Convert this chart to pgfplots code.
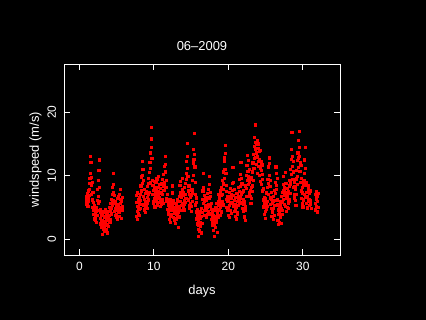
\documentclass[border=0pt]{standalone}
\usepackage{fontspec}
\setmainfont{Liberation Sans}
\usepackage{pgfplots}
\usepackage{pgfplotstable}
\pgfplotsset{compat=1.18}
\pgfplotstableread{
x y
0.92 6.3
0.96 5.8
1.00 6.8
1.04 5.5
1.08 7.2
1.12 6.0
1.16 5.2
1.20 7.6
1.24 6.4
1.28 5.9
1.32 8.8
1.36 6.9
1.40 7.8
1.44 9.6
1.48 13.0
1.52 10.4
1.56 12.1
1.60 8.5
1.64 9.7
1.68 7.1
1.72 8.9
1.76 6.2
1.80 5.0
1.84 7.4
1.88 4.6
1.92 5.8
1.96 3.9
2.00 4.8
2.04 3.2
2.08 5.3
2.12 2.9
2.16 4.1
2.20 3.5
2.24 5.0
2.28 2.7
2.32 4.4
2.36 3.8
2.40 6.1
2.44 4.5
2.48 7.9
2.52 5.6
2.56 9.3
2.60 6.8
2.64 10.8
2.68 12.5
2.72 8.1
2.76 5.9
2.80 4.2
2.84 3.3
2.88 4.6
2.92 2.4
2.96 3.7
3.00 1.9
3.04 3.0
3.08 0.8
3.12 2.6
3.16 3.9
3.20 1.5
3.24 2.8
3.28 4.3
3.32 2.1
3.36 3.4
3.40 1.2
3.44 2.5
3.48 3.6
3.52 4.6
3.56 2.2
3.60 3.1
3.64 1.6
3.68 2.9
3.72 4.0
3.76 1.0
3.80 2.3
3.84 3.5
3.88 2.0
3.92 3.2
3.96 4.4
4.00 2.6
4.04 3.8
4.08 5.0
4.12 3.1
4.16 4.5
4.20 2.7
4.24 5.6
4.28 4.0
4.32 6.3
4.36 4.8
4.40 7.0
4.44 5.4
4.48 8.2
4.52 6.1
4.56 10.4
4.60 8.6
4.64 7.4
4.68 5.8
4.72 6.9
4.76 4.4
4.80 5.6
4.84 3.7
4.88 6.0
4.92 4.9
4.96 3.4
5.00 5.2
5.04 3.9
5.08 6.4
5.12 4.6
5.16 3.1
5.20 5.5
5.24 4.2
5.28 6.8
5.32 3.6
5.36 5.0
5.40 4.3
5.44 7.1
5.48 5.7
5.52 7.8
5.56 4.8
5.60 6.3
5.64 3.3
5.68 5.9
5.72 4.5
5.76 6.6
5.80 5.1
7.64 5.8
7.68 3.6
7.72 6.9
7.76 4.4
7.80 7.3
7.84 3.1
7.88 5.2
7.92 4.0
7.96 6.2
8.00 4.7
8.04 6.5
8.08 3.8
8.12 5.6
8.16 7.0
8.20 4.9
8.24 6.1
8.28 8.4
8.32 5.5
8.36 9.8
8.40 7.6
8.44 12.2
8.48 10.1
8.52 8.8
8.56 11.0
8.60 6.7
8.64 9.2
8.68 5.4
8.72 7.8
8.76 4.6
8.80 6.3
8.84 5.1
8.88 7.2
8.92 4.2
8.96 6.0
9.00 5.3
9.04 7.5
9.08 4.8
9.12 6.6
9.16 8.3
9.20 5.7
9.24 7.0
9.28 9.6
9.32 6.2
9.36 8.8
9.40 10.5
9.44 7.4
9.48 12.1
9.52 9.0
9.56 13.6
9.60 11.2
9.64 15.8
9.68 17.6
9.72 14.4
9.76 12.7
9.80 9.3
9.84 7.1
9.88 8.5
9.92 6.0
9.96 7.7
10.00 5.6
10.04 8.2
10.08 6.4
10.12 9.1
10.16 5.1
10.20 7.3
10.24 6.7
10.28 8.9
10.32 5.9
10.36 7.8
10.40 6.3
10.44 9.5
10.48 7.0
10.52 5.4
10.56 8.1
10.60 6.8
10.64 9.9
10.68 7.5
10.72 5.8
10.76 8.6
10.80 6.5
10.84 7.2
10.88 5.2
10.92 8.0
10.96 6.1
11.00 7.4
11.04 5.5
11.08 8.7
11.12 6.2
11.16 9.4
11.20 7.0
11.24 5.6
11.28 8.3
11.32 10.2
11.36 7.7
11.40 9.0
11.44 11.5
11.48 8.4
11.52 13.1
11.56 10.6
11.60 11.8
11.64 8.1
11.68 6.4
11.72 9.2
11.76 5.9
11.80 7.1
11.84 4.7
11.88 6.0
11.92 3.9
11.96 5.3
12.00 4.2
12.04 5.8
12.08 3.1
12.12 4.9
12.16 6.3
12.20 3.6
12.24 5.2
12.28 2.7
12.32 4.5
12.36 6.0
12.40 3.9
12.44 5.5
12.48 7.3
12.52 4.6
12.56 8.4
12.60 6.1
12.64 5.0
12.68 3.4
12.72 4.8
12.76 2.9
12.80 4.1
12.84 5.6
12.88 3.3
12.92 4.4
12.96 2.5
13.00 4.0
13.04 5.4
13.08 3.2
13.12 4.7
13.16 6.2
13.20 3.7
13.24 5.1
13.28 1.8
13.32 4.3
13.36 5.9
13.40 3.5
13.44 6.8
13.48 4.9
13.52 8.5
13.56 6.0
13.60 9.1
13.64 7.3
13.68 5.3
13.72 6.6
13.76 4.5
13.80 7.9
13.84 5.7
13.88 9.6
13.92 6.9
13.96 5.0
14.00 7.4
14.04 5.5
14.08 8.2
14.12 6.1
14.16 4.6
14.20 7.0
14.24 5.8
14.28 8.8
14.32 6.4
14.36 10.3
14.40 12.3
14.44 9.4
14.48 15.1
14.52 11.1
14.56 13.0
14.60 9.9
14.64 7.6
14.68 6.2
14.72 8.4
14.76 5.3
14.80 7.1
14.84 4.8
14.88 6.6
14.92 5.6
14.96 7.7
15.00 5.2
15.04 6.9
15.08 4.4
15.12 7.8
15.16 6.0
15.20 9.2
15.24 7.3
15.28 12.0
15.32 10.0
15.36 14.1
15.40 12.6
15.44 16.7
15.48 13.3
15.52 11.4
15.56 9.0
15.60 7.1
15.64 5.4
15.68 6.5
15.72 4.3
15.76 5.8
15.80 3.2
15.84 4.6
15.88 2.4
15.92 3.8
15.96 1.6
16.00 3.0
16.04 0.5
16.08 2.2
16.12 4.0
16.16 1.3
16.20 3.3
16.24 2.0
16.28 4.4
16.32 2.7
16.36 1.0
16.40 3.6
16.44 4.9
16.48 2.5
16.52 6.3
16.56 4.2
16.60 7.6
16.64 10.4
16.68 8.1
16.72 5.7
16.76 6.9
16.80 4.5
16.84 5.9
16.88 3.7
16.92 6.4
16.96 4.8
17.00 5.3
17.04 3.4
17.08 6.1
17.12 4.6
17.16 7.2
17.20 5.0
17.24 3.9
17.28 6.6
17.32 4.3
17.36 7.9
17.40 5.5
17.44 8.6
17.48 6.4
17.52 9.9
17.56 7.4
17.60 5.2
17.64 6.8
17.68 4.0
17.72 5.6
17.76 3.1
17.80 4.7
17.84 2.6
17.88 4.2
17.92 3.5
17.96 2.2
18.00 3.8
18.04 1.4
18.08 2.9
18.12 4.5
18.16 0.4
18.20 2.4
18.24 3.6
18.28 5.0
18.32 1.8
18.36 3.2
18.40 4.8
18.44 2.6
18.48 5.7
18.52 3.9
18.56 1.1
18.60 4.4
18.64 6.0
18.68 3.4
18.72 5.3
18.76 7.0
18.80 4.6
18.84 6.5
18.88 3.7
18.92 5.5
18.96 7.6
19.00 5.1
19.04 6.9
19.08 4.3
19.12 8.2
19.16 6.0
19.20 9.3
19.24 7.1
19.28 5.4
19.32 8.7
19.36 10.6
19.40 7.8
19.44 12.2
19.48 9.6
19.52 12.8
19.56 11.0
19.60 13.5
19.64 14.8
19.68 10.3
19.72 8.5
19.76 6.3
19.80 7.5
19.84 5.0
19.88 6.7
19.92 4.6
19.96 5.9
20.00 3.8
20.04 6.2
20.08 4.9
20.12 7.4
20.16 5.3
20.20 3.4
20.24 6.8
20.28 4.5
20.32 8.0
20.36 5.8
20.40 7.1
20.44 4.1
20.48 6.4
20.52 8.8
20.56 5.6
20.60 7.7
20.64 11.3
20.68 9.0
20.72 6.9
20.76 5.2
20.80 7.9
20.84 4.4
20.88 6.1
20.92 3.6
20.96 5.4
21.00 4.7
21.04 6.6
21.08 3.2
21.12 5.0
21.16 7.2
21.20 4.2
21.24 5.9
21.28 3.9
21.32 6.8
21.36 5.3
21.40 8.1
21.44 6.2
21.48 9.4
21.52 7.5
21.56 5.6
21.60 10.2
21.64 8.3
21.68 6.5
21.72 12.1
21.76 9.6
21.80 7.0
21.84 8.7
21.88 5.8
21.92 7.4
21.96 4.9
22.00 6.3
22.04 4.4
22.08 7.6
22.12 5.5
22.16 3.5
22.20 6.0
22.24 4.6
22.28 3.0
22.32 5.2
22.36 8.4
22.40 6.7
22.44 10.1
22.48 8.0
22.52 11.6
22.56 9.3
22.60 13.2
22.64 10.7
22.68 8.6
22.72 12.4
22.76 9.8
22.80 7.3
22.84 11.0
22.88 8.9
22.92 6.8
22.96 9.5
23.00 7.7
23.04 5.6
23.08 8.2
23.12 6.4
23.16 9.7
23.20 7.5
23.24 10.6
23.28 8.4
23.32 12.0
23.36 9.2
23.40 13.4
23.44 11.1
23.48 14.6
23.52 12.7
23.56 16.0
23.60 18.0
23.64 14.2
23.68 15.3
23.72 12.9
23.76 14.9
23.80 13.6
23.84 11.8
23.88 15.6
23.92 13.1
23.96 10.4
24.00 14.3
24.04 12.3
24.08 15.0
24.12 11.5
24.16 13.8
24.20 10.0
24.24 12.6
24.28 14.0
24.32 11.2
24.36 9.1
24.40 12.2
24.44 10.8
24.48 8.6
24.52 11.7
24.56 9.4
24.60 7.6
24.64 10.2
24.68 8.0
24.72 6.2
24.76 7.8
24.80 5.1
24.84 6.6
24.88 3.9
24.92 5.7
24.96 4.4
25.00 6.4
25.04 3.3
25.08 5.4
25.12 7.3
25.16 4.7
25.20 6.0
25.24 8.1
25.28 5.2
25.32 9.4
25.36 7.0
25.40 11.4
25.44 8.8
25.48 12.8
25.52 10.1
25.56 11.9
25.60 8.3
25.64 6.5
25.68 9.2
25.72 5.5
25.76 7.4
25.80 4.8
25.84 6.3
25.88 3.6
25.92 5.6
25.96 4.3
26.00 5.9
26.04 3.1
26.08 4.9
26.12 6.8
26.16 3.8
26.20 5.3
26.24 7.7
26.28 6.1
26.32 9.0
26.36 7.2
26.40 11.4
26.44 8.5
26.48 10.3
26.52 7.9
26.56 6.2
26.60 9.6
26.64 5.4
26.68 3.0
26.72 4.6
26.76 2.3
26.80 3.9
26.84 5.1
26.88 2.7
26.92 4.3
26.96 6.0
27.00 3.5
27.04 5.4
27.08 2.5
27.12 4.8
27.16 6.7
27.20 3.9
27.24 5.8
27.28 7.4
27.32 4.5
27.36 8.6
27.40 6.3
27.44 9.9
27.48 7.6
27.52 5.5
27.56 8.2
27.60 6.9
27.64 10.5
27.68 7.3
27.72 5.2
27.76 8.8
27.80 6.4
27.84 4.4
27.88 7.1
27.92 5.0
27.96 6.6
28.00 8.0
28.04 5.7
28.08 7.5
28.12 4.9
28.16 6.2
28.20 8.4
28.24 6.0
28.28 9.3
28.32 7.2
28.36 11.0
28.40 8.7
28.44 12.6
28.48 10.2
28.52 14.1
28.56 16.8
28.60 13.0
28.64 11.5
28.68 9.4
28.72 12.2
28.76 8.1
28.80 10.6
28.84 7.0
28.88 9.0
28.92 6.5
28.96 8.3
29.00 6.1
29.04 7.8
29.08 5.3
29.12 9.5
29.16 7.1
29.20 10.8
29.24 8.6
29.28 12.4
29.32 9.9
29.36 13.6
29.40 11.3
29.44 15.6
29.48 12.8
29.52 14.4
29.56 17.0
29.60 13.1
29.64 10.7
29.68 12.0
29.72 8.9
29.76 11.6
29.80 7.6
29.84 9.6
29.88 6.4
29.92 8.2
29.96 5.6
30.00 7.3
30.04 5.1
30.08 8.7
30.12 6.2
30.16 9.3
30.20 7.0
30.24 12.5
30.28 10.4
30.32 14.4
30.36 11.2
30.40 8.5
30.44 6.6
30.48 9.0
30.52 5.7
30.56 7.4
30.60 5.0
30.64 6.8
30.68 4.8
30.72 7.9
30.76 5.9
30.80 8.4
30.84 6.3
30.88 5.3
30.92 7.2
30.96 6.0
31.00 5.5
31.04 7.6
31.08 6.1
31.12 4.9
31.68 5.6
31.72 7.0
31.76 4.6
31.80 6.3
31.84 7.5
31.88 5.2
31.92 6.7
31.96 4.3
32.00 6.0
32.04 7.2
32.08 5.0
}\wind
\begin{document}
\begin{tikzpicture}
\fill[black, use as bounding box] (-64bp,-65bp) rectangle (362bp,255bp);
\begin{axis}[
  at={(0,0)}, anchor=south west,
  scale only axis, width=276bp, height=191bp,
  xmin=-2.06, xmax=35.0, ymin=-2.47, ymax=27.6,
  axis line style={white, line width=0.8bp},
  xtick={0,10,20,30}, ytick={0,10,20},
  tick align=inside,
  major tick length=6bp,
  every tick/.style={white, line width=0.8bp},
  /pgf/number format/assume math mode=true,
  tick label style={text=white, font=\fontsize{12}{12}\selectfont},
  xticklabel style={anchor=center, inner sep=0pt, yshift=-11.2bp},
  yticklabel style={anchor=center, inner sep=0pt, xshift=-12.3bp, rotate=90},
  every axis x label/.style={at={(axis description cs:0.5,0)}, yshift=-35.8bp, anchor=center, inner sep=0pt, text=white, font=\fontsize{13}{13}\selectfont},
  every axis y label/.style={at={(axis description cs:0,0.5)}, xshift=-28.5bp, rotate=90, anchor=center, inner sep=0pt, text=white, font=\fontsize{13}{13}\selectfont},
  every axis title/.style={at={(axis description cs:0.5,1)}, yshift=18.3bp, anchor=center, inner sep=0pt, text=white, font=\fontsize{13}{13}\selectfont},
  title={06–2009},
  xlabel={days},
  ylabel={windspeed (m/s)},
]
\addplot[only marks, mark=square*, mark size=1.1bp, color=red, mark options={draw=red, fill=red, line width=0pt}] table[x=x, y=y] {\wind};
\end{axis}
\end{tikzpicture}
\end{document}
